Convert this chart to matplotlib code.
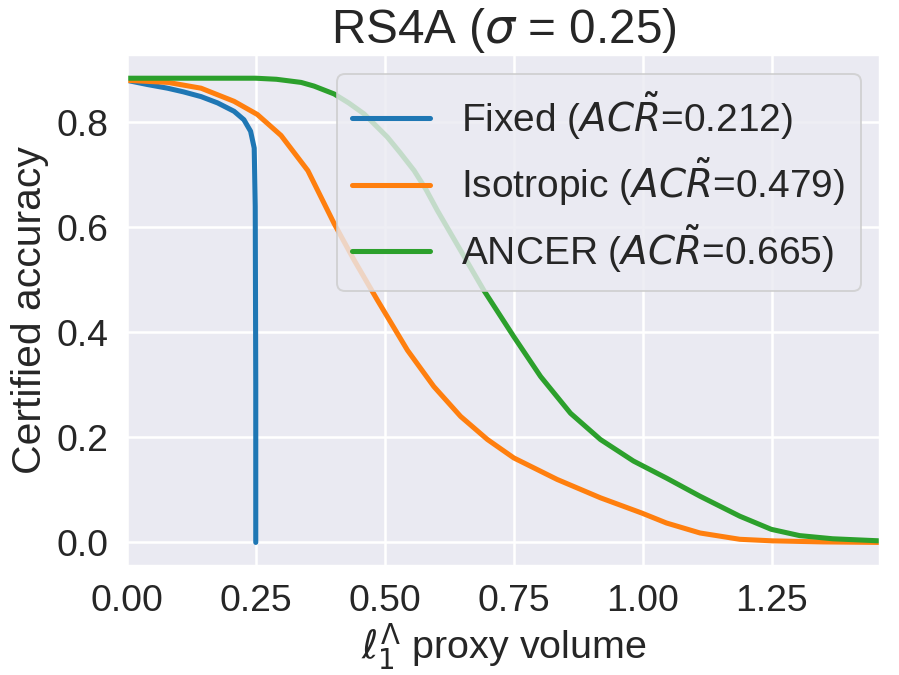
import seaborn as sns
from matplotlib import pyplot as plt

# curves
fixed_x = [0, 0.04, 0.079, 0.11, 0.144, 0.176, 0.208, 0.227, 0.240, 0.247, 0.249, 0.250, 0.250]
fixed_y = [0.880, 0.872, 0.865, 0.858, 0.849, 0.837, 0.821, 0.805, 0.783, 0.751, 0.64, 0.30, 0.0]

iso_x = [0, 0.08, 0.144, 0.208, 0.253, 0.299, 0.351, 0.402, 0.441, 0.486, 0.544, 0.595,
         0.647, 0.699, 0.750, 0.834, 0.918, 0.998, 1.046, 1.111, 1.188, 1.252, 1.35, 1.46]
iso_y = [0.880, 0.876, 0.865, 0.840, 0.815, 0.775, 0.708, 0.607, 0.537, 0.461, 0.366, 0.297,
         0.240, 0.196, 0.161, 0.120, 0.085, 0.056, 0.037, 0.018, 0.006, 0.003, 0.001, 0.0]

ancer_x = [0, 0.15, 0.25, 0.29, 0.338, 0.363, 0.402, 0.430, 0.460, 0.505, 0.530, 0.557, 0.580,
           0.602, 0.647, 0.692, 0.750, 0.802, 0.860, 0.918, 0.982, 1.047, 1.111, 1.188, 1.249,
           1.304, 1.368, 1.46]
ancer_y = [0.884, 0.884, 0.884, 0.882, 0.876, 0.869, 0.854, 0.837, 0.816, 0.772, 0.742, 0.708, 0.672,
           0.632, 0.556, 0.480, 0.392, 0.316, 0.246, 0.196, 0.155, 0.122, 0.088, 0.050, 0.025,
           0.013, 0.007, 0.003]

labels = [r'Fixed ($AC\tilde{R}$=0.212)',
          r'Isotropic ($AC\tilde{R}$=0.479)',
          r'ANCER ($AC\tilde{R}$=0.665)']

sns.set_theme(style='darkgrid')
plt.rcParams['font.family'] = ['Liberation Sans', 'DejaVu Sans']

fig = plt.figure(figsize=(899 / 140, 675 / 140), dpi=140)
ax = fig.add_subplot(111)
plt.subplots_adjust(left=0.141, right=0.979, bottom=0.162, top=0.9185)

ax.plot(fixed_x, fixed_y, c='#1f77b4', lw=2.6, label=labels[0])
ax.plot(iso_x, iso_y, c='#ff7f0e', lw=2.6, label=labels[1])
ax.plot(ancer_x, ancer_y, c='#2ca02c', lw=2.6, label=labels[2])

ax.set_xlim(0, 1.46)
ax.set_xticks([0, 0.25, 0.5, 0.75, 1.0, 1.25])
ax.set_yticks([0, 0.2, 0.4, 0.6, 0.8])
ax.tick_params(labelsize=19.25)
ax.grid(True, lw=1.3)

ax.set_title(r'RS4A ($\sigma$ = 0.25)', fontsize=24.5)
ax.set_xlabel(r'$\ell_1^\Lambda$ proxy volume', fontsize=20.3, labelpad=1)
ax.set_ylabel('Certified accuracy', fontsize=21)
ax.legend(loc='upper right', fontsize=20, labelspacing=0.38)

plt.savefig('out.png')
